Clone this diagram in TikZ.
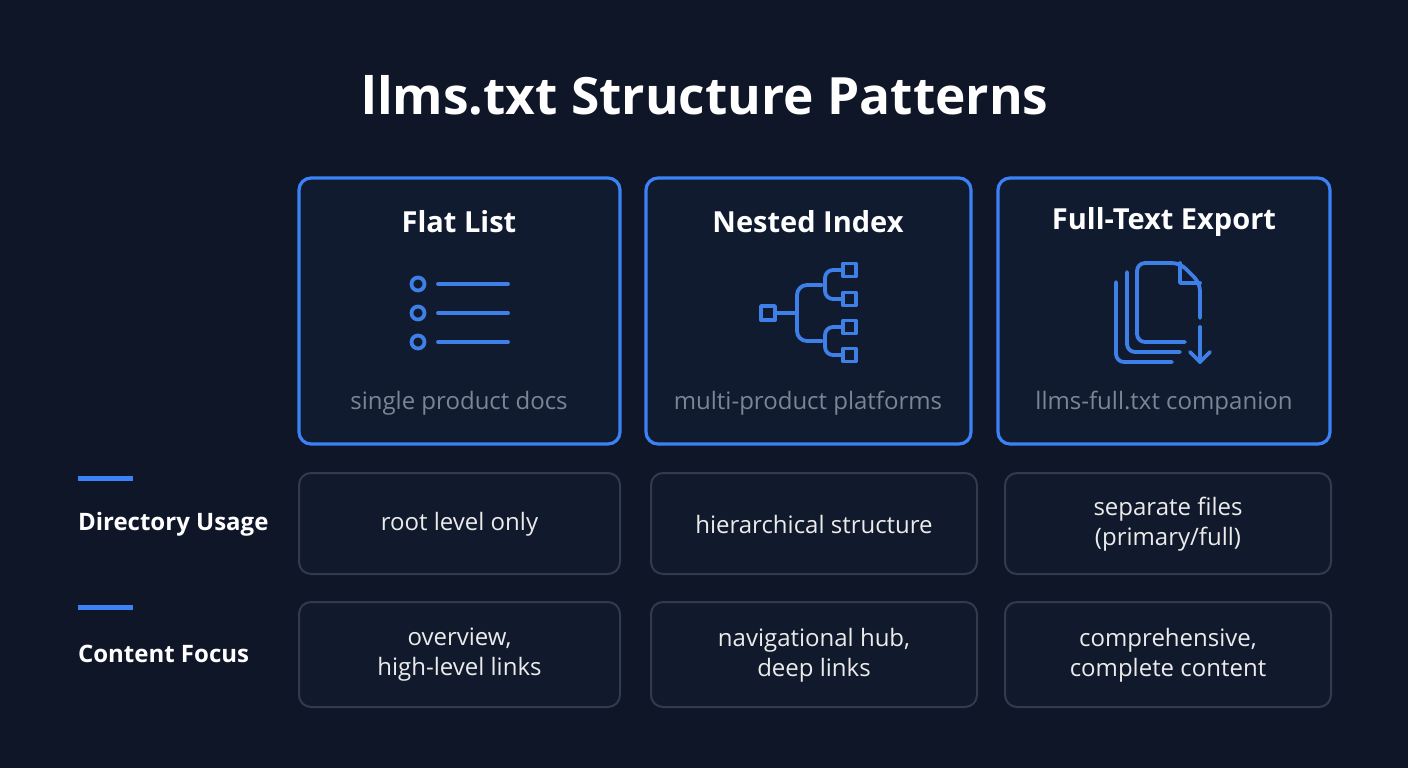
\documentclass[tikz,border=0pt]{standalone}
\usepackage{fontspec}
\setmainfont{Open Sans}
\usetikzlibrary{positioning}
\definecolor{bgnavy}{HTML}{0F1628}
\definecolor{cardfill}{HTML}{111B30}
\definecolor{accent}{HTML}{3B82F6}
\definecolor{iconblue}{HTML}{3F7FE8}
\definecolor{edgegray}{HTML}{323B4C}
\definecolor{subgray}{HTML}{7C8596}
\definecolor{cellfill}{HTML}{111A2C}

\tikzset{
  pattern card/.style={draw=accent, line width=1.6pt, rounded corners=6pt, fill=cardfill},
  cell/.style={draw=edgegray, line width=1pt, rounded corners=6pt, fill=cellfill},
  cell text/.style={text=white!92!black, font=\fontsize{12}{15}\selectfont, align=center},
  card title/.style={text=white, font=\bfseries\fontsize{14.5}{17}\selectfont},
  card sub/.style={text=subgray, font=\fontsize{12}{14}\selectfont},
  row label/.style={text=white, font=\bfseries\fontsize{12}{14}\selectfont, anchor=west},
  icon/.style={draw=iconblue, line width=1.9pt, line cap=round, line join=round},
  row dash/.style={draw=accent, line width=2.5pt}
}

\begin{document}
\begin{tikzpicture}[x=0.5pt, y=-0.5pt]
  \fill[bgnavy] (0,0) rectangle (1408,768);
  \useasboundingbox (0,0) rectangle (1408,768);

  % title
  \node[text=white, font=\bfseries\fontsize{25.7}{30}\selectfont] (title) at (705,95) {llms.txt Structure Patterns};

  % pattern cards
  \draw[pattern card] (299,178) rectangle (620,444);
  \draw[pattern card] (646,178) rectangle (971,444);
  \draw[pattern card] (998,178) rectangle (1330,444);
  \node[card title] (flat) at (459,222) {Flat List};
  \node[card title] (nested) at (808,222) {Nested Index};
  \node[card title] (full) at (1164,222) {Full-Text Export};
  \node[card sub] (flatsub) at (459,403) {single product docs};
  \node[card sub] (nestedsub) at (808,403) {multi-product platforms};
  \node[card sub] (fullsub) at (1164,403) {llms-full.txt companion};

  % flat list icon
  \foreach \y in {284,313,342} {
    \draw[icon] (418,\y) circle (6.5);
    \draw[icon] (438,\y) -- (508,\y);
  }

  % nested index icon
  \draw[icon] (761,306) rectangle (775,320);
  \draw[icon] (775,313) -- (797,313);
  \draw[icon, rounded corners=5pt] (822,285) -- (797,285) -- (797,341) -- (822,341);
  \draw[icon, rounded corners=4pt] (843,270) -- (825,270) -- (825,299) -- (843,299);
  \draw[icon, rounded corners=4pt] (843,327) -- (825,327) -- (825,355) -- (843,355);
  \foreach \y in {270,299,327,355}
    \draw[icon] (843,\y-6.5) rectangle (856,\y+6.5);

  % full-text export icon
  \draw[icon, rounded corners=4pt] (1116,282) -- (1116,362) -- (1172,362);
  \draw[icon, rounded corners=4pt] (1127,272) -- (1127,352) -- (1180,352);
  \draw[icon, rounded corners=4pt] (1200,318) -- (1200,283) -- (1180,263) -- (1137,263) -- (1137,342) -- (1185,342);
  \draw[icon] (1180,263) -- (1180,283) -- (1200,283);
  \draw[icon] (1200,327) -- (1200,362);
  \draw[icon] (1190,352) -- (1200,362) -- (1210,352);

  % row labels
  \draw[row dash] (78,478) -- (133,478);
  \node[row label] (dirlabel) at (71,524) {Directory Usage};
  \draw[row dash] (78,607) -- (133,607);
  \node[row label] (focuslabel) at (71,654) {Content Focus};

  % directory usage row
  \draw[cell] (299,473) rectangle (620,574);
  \draw[cell] (651,473) rectangle (977,574);
  \draw[cell] (1005,473) rectangle (1331,574);
  \node[cell text] (dirflat) at (459.5,524) {root level only};
  \node[cell text] (dirnested) at (814,524) {hierarchical structure};
  \node[cell text] (dirfull) at (1168,524) {separate files\\(primary/full)};

  % content focus row
  \draw[cell] (299,602) rectangle (620,707);
  \draw[cell] (651,602) rectangle (977,707);
  \draw[cell] (1005,602) rectangle (1331,707);
  \node[cell text] (focusflat) at (459.5,655) {overview,\\high-level links};
  \node[cell text] (focusnested) at (814,655) {navigational hub,\\deep links};
  \node[cell text] (focusfull) at (1168,655) {comprehensive,\\complete content};
\end{tikzpicture}
\end{document}
